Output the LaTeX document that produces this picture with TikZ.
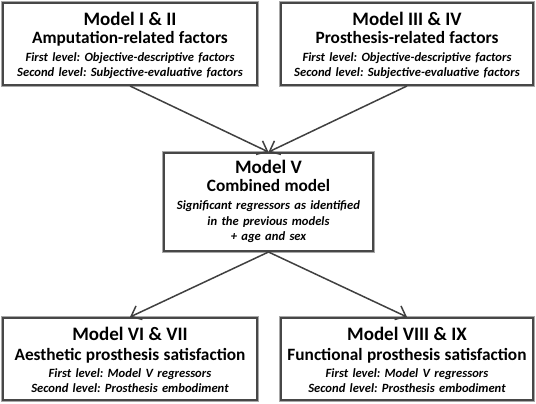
\documentclass[tikz,border=0pt]{standalone}
\usepackage{fontspec}
\setmainfont{Carlito}[BoldFont=* Bold, ItalicFont=* Italic, BoldItalicFont=* Bold Italic]
\frenchspacing
\usetikzlibrary{arrows.meta}
\definecolor{frame}{HTML}{474747}
\definecolor{halo}{HTML}{A8A8A8}
\definecolor{conn}{HTML}{404040}
\newcommand{\ttl}[1]{{\fontsize{19}{15}\selectfont\bfseries #1}}
\newcommand{\sub}[1]{{\fontsize{17.3}{15}\selectfont\bfseries #1}}
\newcommand{\itl}[1]{{\fontsize{12.6}{15}\selectfont\bfseries\itshape #1}}
\tikzset{
  modelbox/.style={draw=frame, line width=2pt, fill=white,
    preaction={draw=halo, line width=3.6pt},
    inner sep=0pt, minimum height=82pt},
  boxtext/.style={anchor=base, align=center, inner sep=0pt,
    font=\fontsize{13}{15}\selectfont},
  link/.style={draw=conn, line width=1.5pt,
    -{Straight Barb[length=9pt,width=15pt,line width=1.5pt]}}
}
\begin{document}
\begin{tikzpicture}[x=1pt,y=-1pt]
\useasboundingbox (0,0) rectangle (536,404);
\fill[white] (0,0) rectangle (536,404);
\node[modelbox, minimum width=254pt] (a) at (130,44) {};
\node[modelbox, minimum width=252pt] (b) at (407,44) {};
\node[modelbox, minimum width=209pt, minimum height=98pt] (c) at (268.5,202) {};
\node[modelbox, minimum width=254pt] (d) at (130,359) {};
\node[modelbox, minimum width=252pt] (e) at (407,359) {};
\node[boxtext, text width=254pt] (at) at (130,26)
  {\ttl{Model I \& II}\\[3pt]\sub{Amputation-related factors}\\[3pt]
   \itl{First level: Objective-descriptive factors}\\
   \itl{Second level: Subjective-evaluative factors}};
\node[boxtext, text width=252pt] (bt) at (407,26)
  {\ttl{Model III \& IV}\\[3pt]\sub{Prosthesis-related factors}\\[3pt]
   \itl{First level: Objective-descriptive factors}\\
   \itl{Second level: Subjective-evaluative factors}};
\node[boxtext, text width=209pt] (ct) at (268.5,173)
  {\ttl{Model V}\\[3pt]\sub{Combined model}\\[3pt]
   \itl{Significant regressors as identified}\\[1pt]
   \itl{in the previous models}\\
   \itl{+ age and sex}};
\node[boxtext, text width=254pt] (dt) at (130,340)
  {\ttl{Model VI \& VII}\\[5pt]\sub{Aesthetic prosthesis satisfaction}\\[2pt]
   \itl{First level: Model V regressors}\\
   \itl{Second level: Prosthesis embodiment}};
\node[boxtext, text width=252pt] (et) at (407,340)
  {\ttl{Model VIII \& IX}\\[5pt]\sub{Functional prosthesis satisfaction}\\[2pt]
   \itl{First level: Model V regressors}\\
   \itl{Second level: Prosthesis embodiment}};
\draw[link] (a.south) -- (c.north);
\draw[link] (b.south) -- (c.north);
\draw[link] (c.south) -- (d.north);
\draw[link] (c.south) -- (e.north);
\end{tikzpicture}
\end{document}
